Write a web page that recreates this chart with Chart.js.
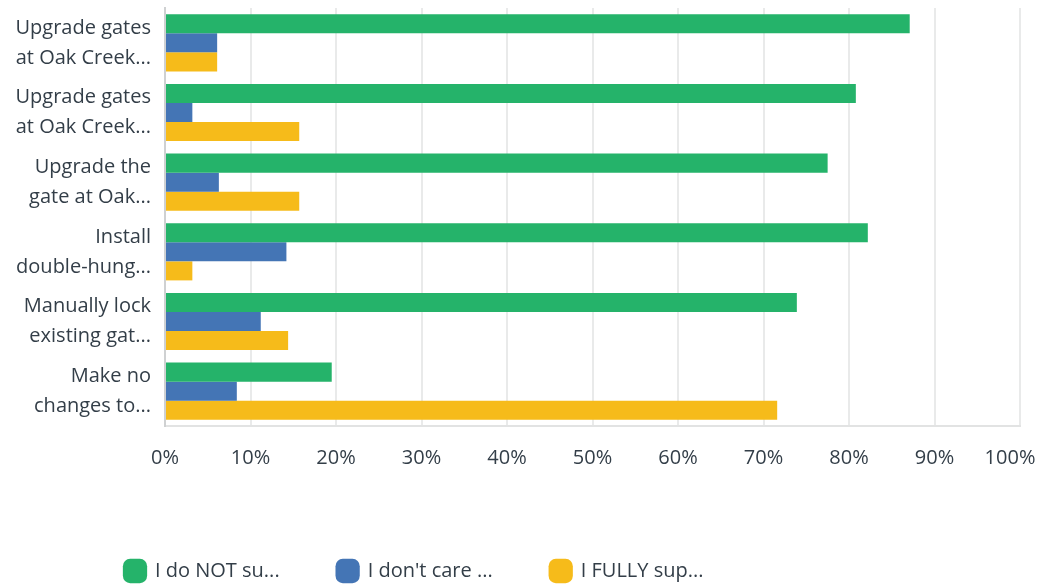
<!DOCTYPE html>
<html>
<head>
<meta charset="utf-8">
<script src="https://cdn.jsdelivr.net/npm/chart.js@4/dist/chart.umd.min.js"></script>
<style>
  html, body { margin: 0; padding: 0; background: #fff; }
  #wrap { width: 1039px; height: 585px; }
</style>
</head>
<body>
<div id="wrap"><canvas id="surveyChart"></canvas></div>
<script>
// categorias (etiquetas recortadas como en la imagen)
const categories = [
    ['Upgrade gates', 'at Oak Creek...'],
    ['Upgrade gates', 'at Oak Creek...'],
    ['Upgrade the', 'gate at Oak...'],
    ['Install', 'double-hung...'],
    ['Manually lock', 'existing gat...'],
    ['Make no', 'changes to...']
];

const seriesNames = ['I do NOT su...', "I don't care ...", 'I FULLY sup...'];

// valores en %
const doNotSupport = [87.1, 80.8, 77.5, 82.2, 73.9, 19.5];
const dontCare = [6.1, 3.2, 6.3, 14.2, 11.2, 8.4];
const fullySupport = [6.1, 15.7, 15.7, 3.2, 14.4, 71.6];

const tickValues = [0, 10, 20, 30, 40, 50, 60, 70, 80, 90, 100];

const colors = ['#25b36a', '#4475b5', '#f6bb1a'];
const labelColor = '#333e48';

// mover la leyenda a la izquierda como en la imagen
const legendOffset = {
    id: 'legendOffset',
    afterLayout(chart) {
        chart.legend.left = 125 - chart.options.plugins.legend.labels.padding;
    }
};

const ctx = document.getElementById('surveyChart').getContext('2d');

const surveyChart = new Chart(ctx, {
    type: 'bar',
    data: {
        labels: categories,
        datasets: [doNotSupport, dontCare, fullySupport].map((vals, i) => ({
            label: seriesNames[i],
            data: vals,
            backgroundColor: colors[i],
            borderWidth: 0,
            barPercentage: 1,
            categoryPercentage: 0.82
        }))
    },
    options: {
        indexAxis: 'y',
        responsive: true,
        maintainAspectRatio: false,
        animation: false,
        layout: { padding: { top: 8, right: 0, left: 0, bottom: -6 } },
        scales: {
            x: {
                min: 0,
                max: 100,
                afterBuildTicks: (scale) => {
                    scale.ticks = tickValues.map(v => ({ value: v }));
                },
                afterFit: (scale) => {
                    scale.height += 13; // espacio hasta la leyenda
                    scale.paddingRight = 19;
                },
                ticks: {
                    // el 100% se corre un poco para que quepa
                    callback: (v) => v === 100 ? '100%\u2002\u2002' : v + '%',
                    color: labelColor,
                    font: { family: 'Open Sans', size: 20 },
                    padding: 20,
                    maxRotation: 0
                },
                grid: { color: '#e9eaea', lineWidth: 2, drawTicks: false },
                border: { color: '#e2e3e3', width: 2 }
            },
            y: {
                afterFit: (scale) => {
                    scale.width = 165;
                    scale.paddingTop = 0;
                    scale.paddingBottom = 0;
                },
                ticks: {
                    autoSkip: false,
                    color: labelColor,
                    font: { family: 'Open Sans', size: 20, lineHeight: 1.5 },
                    padding: 14
                },
                grid: { display: false, drawTicks: false },
                border: { color: '#cfd1d2', width: 2 }
            }
        },
        plugins: {
            legend: {
                position: 'bottom',
                align: 'start',
                labels: {
                    color: labelColor,
                    font: { family: 'Open Sans', size: 20 },
                    usePointStyle: true,
                    pointStyle: 'rectRounded',
                    boxWidth: 28,
                    boxHeight: 28,
                    padding: 58
                }
            },
            tooltip: { enabled: false }
        }
    },
    plugins: [legendOffset]
});
</script>
</body>
</html>
